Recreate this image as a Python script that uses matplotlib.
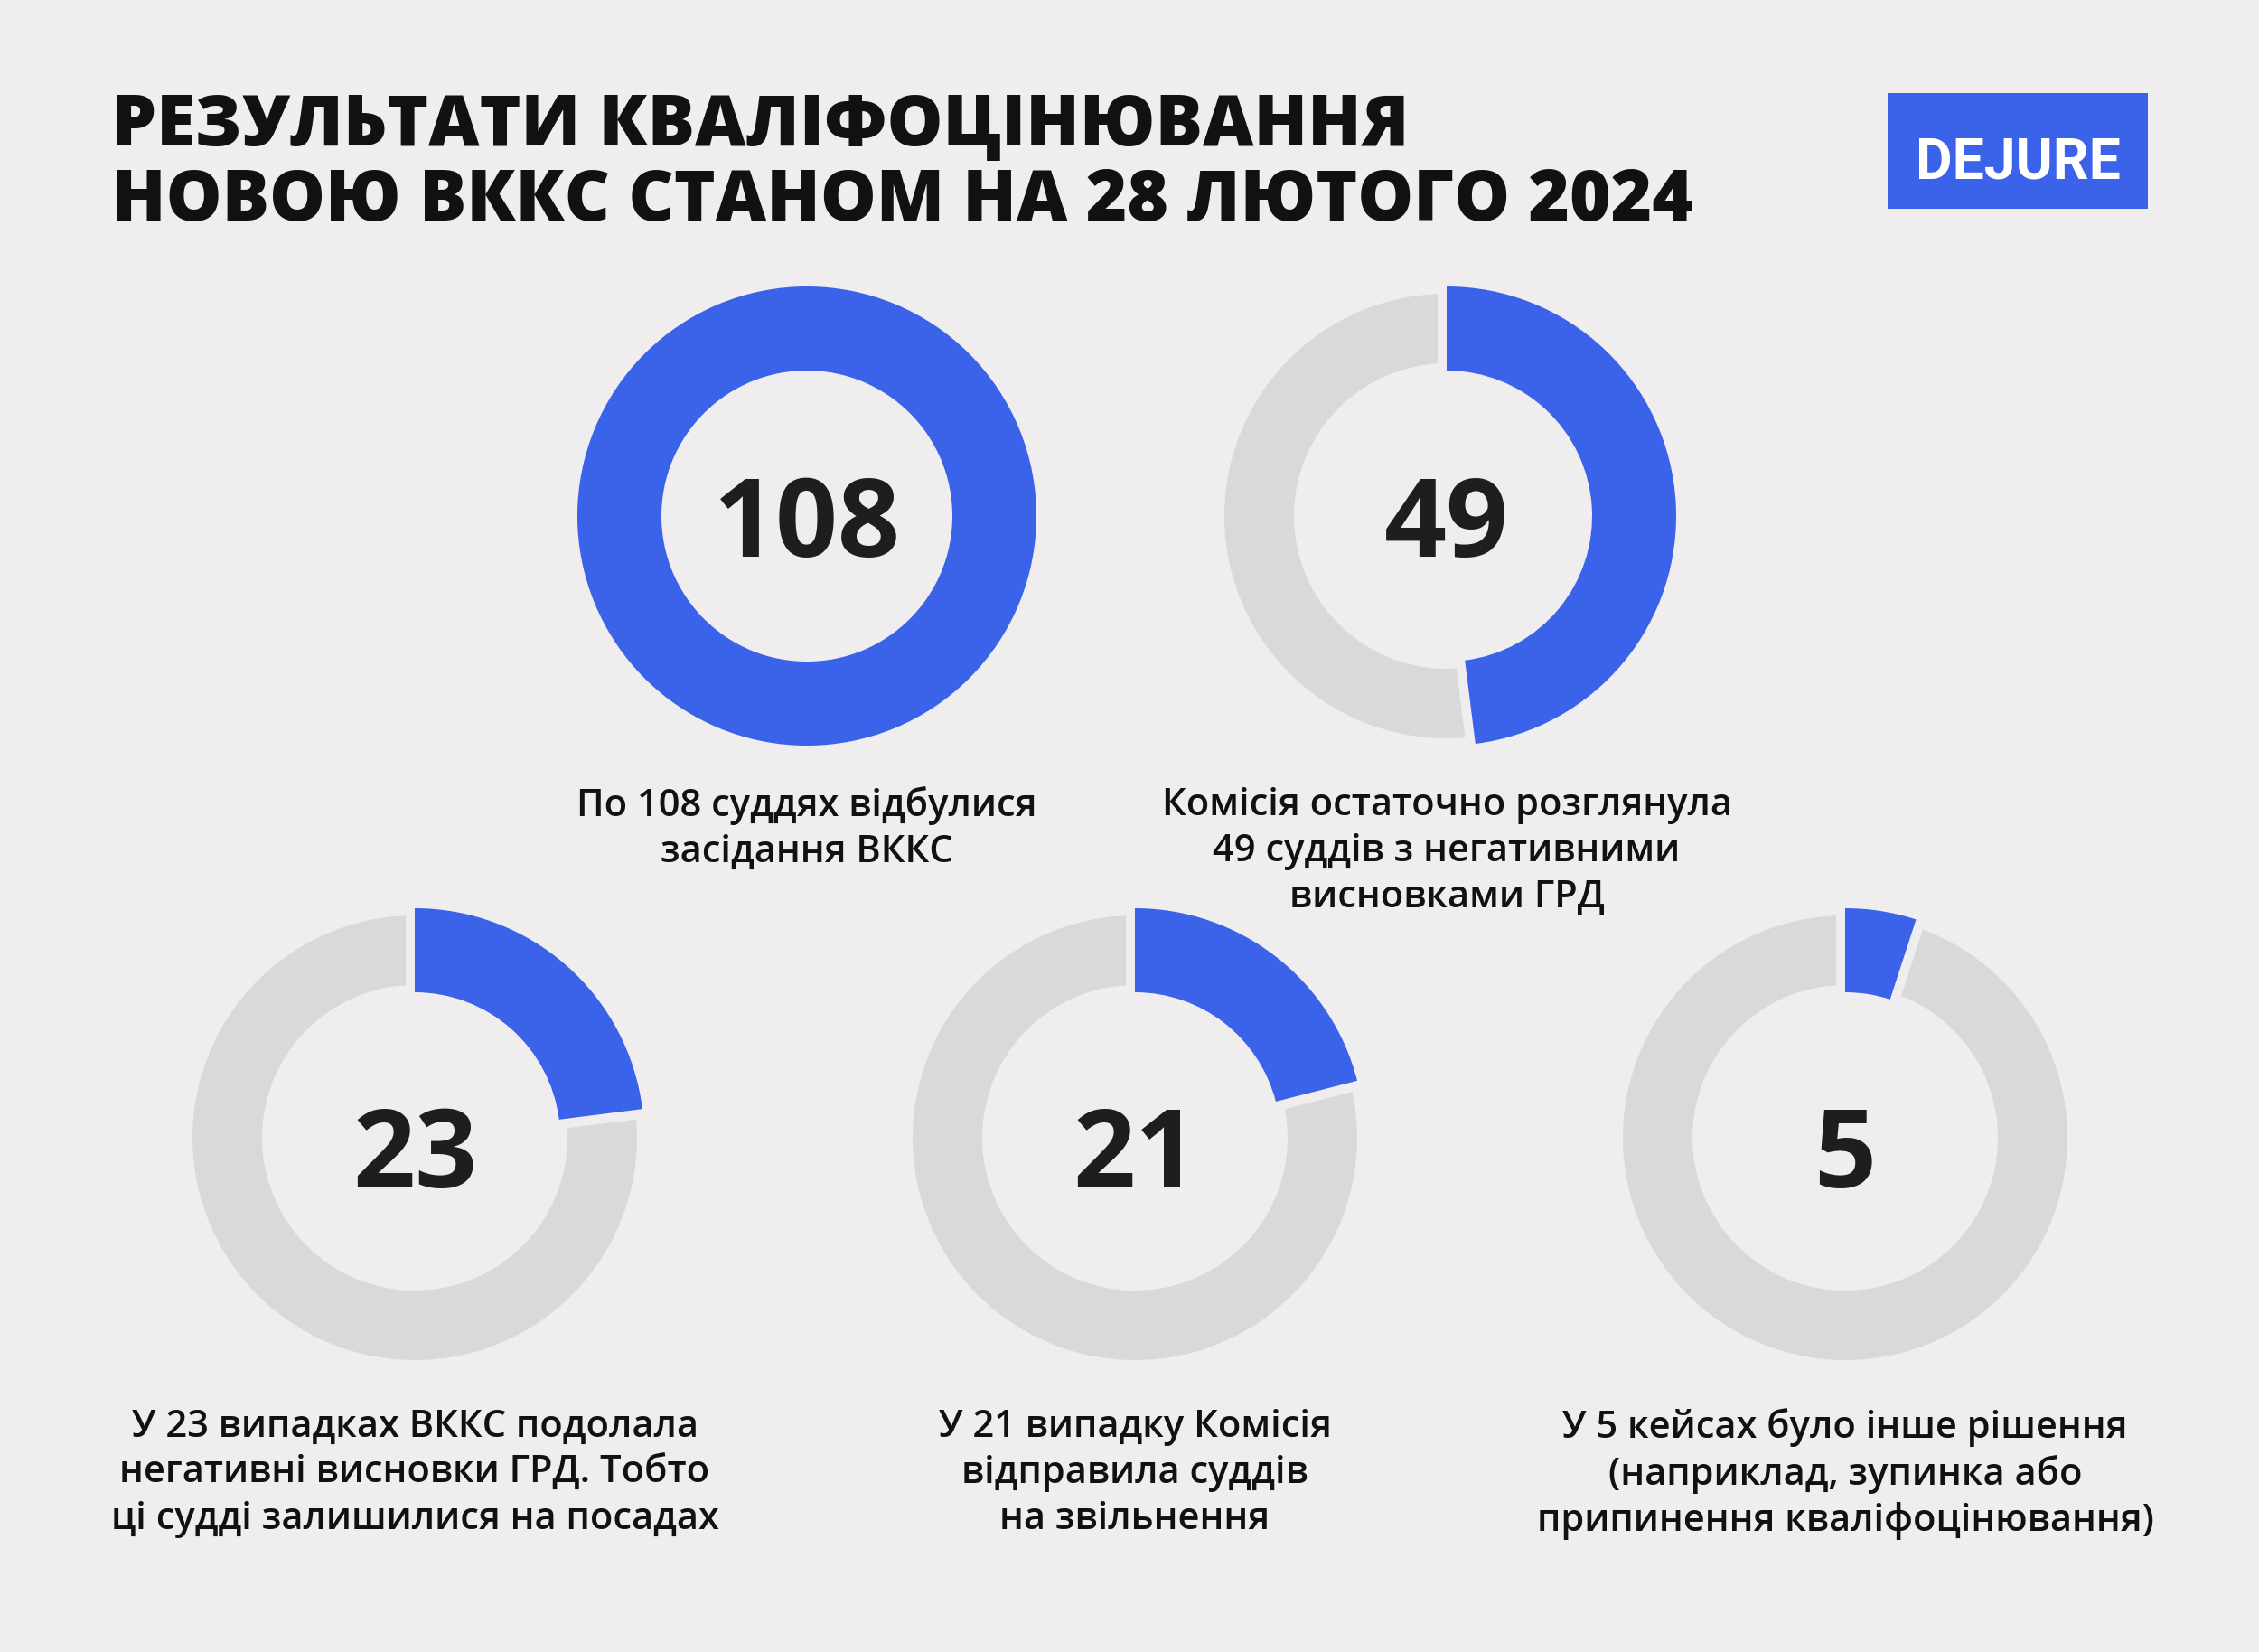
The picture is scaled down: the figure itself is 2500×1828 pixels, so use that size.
import matplotlib
matplotlib.use("Agg")
import matplotlib.pyplot as plt
from matplotlib.patches import Wedge, Rectangle
import numpy as np

# ---------------- data ----------------
title_lines = ["РЕЗУЛЬТАТИ КВАЛІФОЦІНЮВАННЯ", "НОВОЮ ВККС СТАНОМ НА 28 ЛЮТОГО 2024"]
values = [108, 49, 23, 21, 5]
# share of the ring filled in blue, as drawn in the picture
ring_share = [1.00, 0.48, 0.23, 0.21, 0.05]
labels = [
    "По 108 суддях відбулися\nзасідання ВККС",
    "Комісія остаточно розглянула\n49 суддів з негативними\nвисновками ГРД",
    "У 23 випадках ВККС подолала\nнегативні висновки ГРД. Тобто\nці судді залишилися на посадах",
    "У 21 випадку Комісія\nвідправила суддів\nна звільнення",
    "У 5 кейсах було інше рішення\n(наприклад, зупинка або\nприпинення кваліфоцінювання)",
]
logo_text = "DEJURE"

# ---------------- style ----------------
BG = "#EFEDEE"
BLUE = "#3B63E9"
GRAY = "#DAD9DA"
DARK = "#1E1E1E"
FONT = ["Open Sans", "DejaVu Sans"]

W, H = 2500, 1828
fig = plt.figure(figsize=(W / 100, H / 100), dpi=100, facecolor=BG)
ax = fig.add_axes([0, 0, 1, 1])
ax.set_xlim(0, W)
ax.set_ylim(H, 0)
ax.axis("off")
ax.set_facecolor(BG)

# layout (pixel units)
centers = [(893, 571), (1601, 571), (459, 1259), (1256, 1259), (2042, 1259)]
num_dy = [45, 45, 55, 55, 55]
R_BLUE, W_BLUE = 254, 93
R_GRAY, W_GRAY = 246, 77
GAP_PX = 10.5
label_top = [870, 870, 1558, 1558, 1558]

for (cx, cy), v, share, lab, top, dy in zip(centers, values, ring_share, labels,
                                            label_top, num_dy):
    span = 360 * share
    start = -90  # screen 12 o'clock (y axis inverted), clockwise = increasing
    if share < 1:
        ax.add_patch(Wedge((cx, cy), R_GRAY, start + span, start + 360,
                           width=W_GRAY, facecolor=GRAY, edgecolor="none", zorder=1))
        for ang in (start, start + span):
            a = np.deg2rad(ang)
            ax.plot([cx, cx + (R_GRAY + 5) * np.cos(a)], [cy, cy + (R_GRAY + 5) * np.sin(a)],
                    color=BG, lw=2 * GAP_PX * 72 / 100, solid_capstyle="butt", zorder=2)
    ax.add_patch(Wedge((cx, cy), R_BLUE, start, start + span,
                       width=W_BLUE, facecolor=BLUE, edgecolor="none", zorder=3))
    ax.text(cx, cy + dy, str(v), ha="center", va="baseline", fontsize=87,
            fontweight="bold", color=DARK, family=FONT, zorder=4)
    ax.text(cx, top, lab, ha="center", va="top", fontsize=30, fontweight="semibold",
            color="#111111", family=FONT, linespacing=1.28, multialignment="center", zorder=4)

# title
ax.text(124, 161, title_lines[0], ha="left", va="baseline", fontsize=56,
        fontweight="heavy", color="#111111", family=FONT)
ax.text(124, 244, title_lines[1], ha="left", va="baseline", fontsize=56,
        fontweight="heavy", color="#111111", family=FONT)

# logo
ax.add_patch(Rectangle((2089, 103), 288, 128, facecolor=BLUE, edgecolor="none"))
ax.text(2233, 198, logo_text, ha="center", va="baseline", fontsize=45,
        fontweight="bold", color="white", family=["Roboto", "DejaVu Sans"])

fig.savefig("out.png", dpi=100, facecolor=BG)
